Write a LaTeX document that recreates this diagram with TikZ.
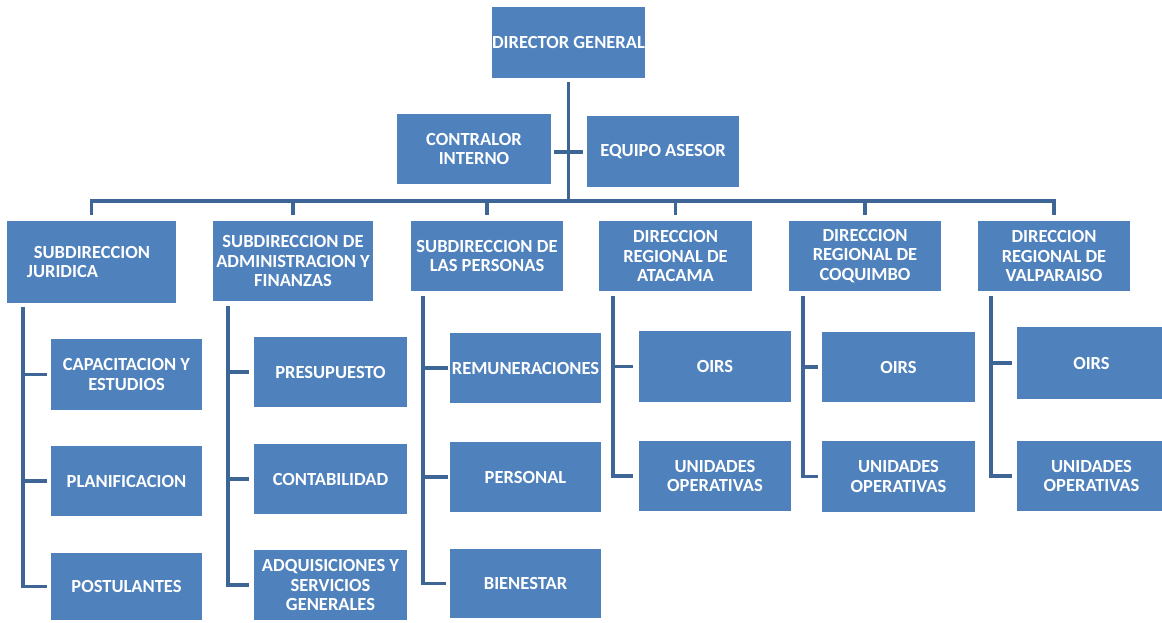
\documentclass[tikz,border=0pt]{standalone}
\usepackage{fontspec}
\setmainfont{Carlito}
\definecolor{boxblue}{HTML}{4F81BD}
\definecolor{lineblue}{HTML}{3D6696}
% box given by its corners: name, x1, y1, x2, y2, text
\newcommand\orgbox[6]{%
  \node[box,minimum width={#4-#2},minimum height={#5-#3}] (#1)
    at ({(#2+#4)/2},{(#3+#5)/2}) {#6};}
\begin{document}
\begin{tikzpicture}[x=1pt,y=-1pt,
  box/.style={fill=boxblue,draw=none,text=white,align=center,
    inner sep=0pt,outer sep=0pt,
    font=\bfseries\fontsize{18.5}{19.5}\selectfont},
  conn/.style={draw=lineblue,line width=3.2pt}]
\fill[white] (0,0) rectangle (1162,622);
\useasboundingbox (0,0) rectangle (1162,622);

% top level
\orgbox{dg}{492}{7}{645}{78}{DIRECTOR GENERAL}
\orgbox{ci}{397}{114}{551}{184}{CONTRALOR\\INTERNO}
\orgbox{ea}{587}{116}{739}{187}{EQUIPO ASESOR}

% second level
\node[box,minimum width=169,minimum height=82,align=left] (jur) at (91.5,262)
  {\hspace*{7pt}SUBDIRECCION\rule{6pt}{0pt}\\JURIDICA};
\orgbox{adm}{213}{221}{373}{301}{SUBDIRECCION DE\\ADMINISTRACION Y\\FINANZAS}
\orgbox{per}{411}{221}{563}{291}{SUBDIRECCION DE\\LAS PERSONAS}
\orgbox{ata}{599}{221}{752}{291}{DIRECCION\\REGIONAL DE\\ATACAMA}
\orgbox{coq}{789}{221}{941}{291}{DIRECCION\\REGIONAL DE\\COQUIMBO}
\orgbox{val}{978}{221}{1130}{291}{DIRECCION\\REGIONAL DE\\VALPARAISO}

% third level
\orgbox{cap}{51}{339}{202}{410}{CAPACITACION Y\\ESTUDIOS}
\orgbox{pla}{51}{446}{202}{516}{PLANIFICACION}
\orgbox{pos}{51}{553}{202}{620}{POSTULANTES}

\orgbox{pre}{254}{337}{407}{407}{PRESUPUESTO}
\orgbox{con}{254}{444}{407}{514}{CONTABILIDAD}
\orgbox{adq}{254}{550}{407}{620}{ADQUISICIONES Y\\SERVICIOS\\GENERALES}

\orgbox{rem}{450}{333}{601}{403}{REMUNERACIONES}
\orgbox{prs}{450}{442}{601}{512}{PERSONAL}
\orgbox{bie}{450}{549}{601}{618}{BIENESTAR}

\orgbox{oa}{639}{331}{791}{402}{OIRS}
\orgbox{ua}{639}{441}{791}{511}{UNIDADES\\OPERATIVAS}

\orgbox{oc}{822}{332}{975}{402}{OIRS}
\orgbox{uc}{822}{441}{975}{512}{UNIDADES\\OPERATIVAS}

\orgbox{ov}{1017}{327}{1166}{399}{OIRS}
\orgbox{uv}{1017}{441}{1166}{511}{UNIDADES\\OPERATIVAS}

% connector coordinates
\coordinate (bus) at (568,201);
\coordinate (mid) at (568,152);
\coordinate (sj) at (23,307);
\coordinate (sa) at (228,306);
\coordinate (sp) at (423,296);
\coordinate (st) at (613,296);
\coordinate (sc) at (803,296);
\coordinate (sv) at (991,296);

% trunk, staff stub and bus
\draw[conn] ([yshift=-4pt]dg.south) -- (dg.south |- bus);
\draw[conn] ([xshift=3pt]ci.east |- mid) -- ([xshift=-4pt]ea.west |- mid);
\draw[conn] ([yshift=6pt]jur.north) -- (jur.north |- bus)
  -- (val.north |- bus) -- ([yshift=6pt]val.north);
\foreach \n in {adm,per,ata,coq}
  \draw[conn] (\n.north |- bus) -- ([yshift=6pt]\n.north);

% spines with their branches
\draw[conn] (sj) |- ([xshift=-4pt]pos.west);
\foreach \n in {cap,pla} \draw[conn] (sj |- \n.west) -- ([xshift=-4pt]\n.west);
\draw[conn] (sa) |- ([xshift=-5pt]adq.west);
\foreach \n in {pre,con} \draw[conn] (sa |- \n.west) -- ([xshift=-5pt]\n.west);
\draw[conn] (sp) |- ([xshift=-4pt]bie.west);
\foreach \n in {rem,prs} \draw[conn] (sp |- \n.west) -- ([xshift=-2pt]\n.west);
\draw[conn] (st) |- ([xshift=-6pt]ua.west);
\draw[conn] (st |- oa.west) -- ([xshift=-6pt]oa.west);
\draw[conn] (sc) |- ([xshift=-4pt]uc.west);
\draw[conn] (sc |- oc.west) -- ([xshift=-4pt]oc.west);
\draw[conn] (sv) |- ([xshift=-5pt]uv.west);
\draw[conn] (sv |- ov.west) -- ([xshift=-5pt]ov.west);
\end{tikzpicture}
\end{document}
